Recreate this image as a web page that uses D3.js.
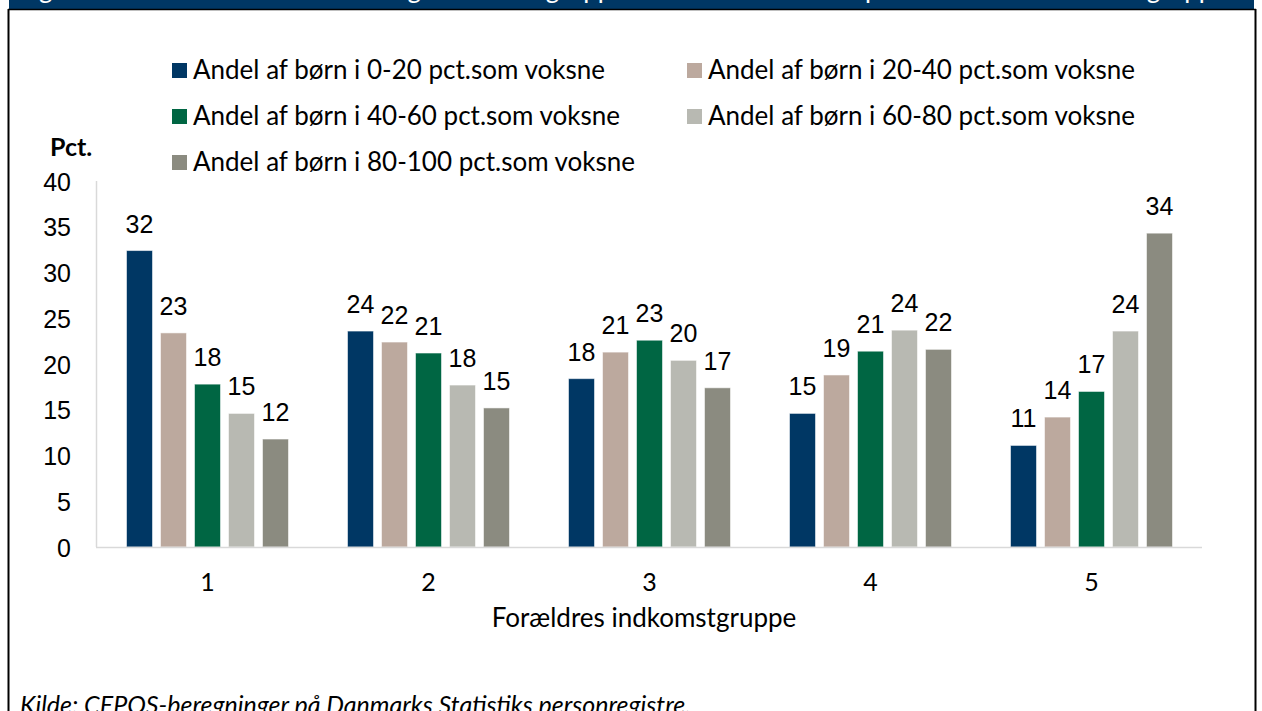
<!DOCTYPE html>
<html>
<head>
<meta charset="utf-8">
<script src="https://cdn.jsdelivr.net/npm/d3@7"></script>
<style>
  html, body { margin: 0; padding: 0; background: #fff; }
  svg { display: block; }
</style>
</head>
<body>
<svg id="chart" width="1262" height="711"></svg>
<script>
// ---- data ----
const categories = ["1", "2", "3", "4", "5"];
const seriesNames = [
  "Andel af børn i 0-20 pct.som voksne",
  "Andel af børn i 20-40 pct.som voksne",
  "Andel af børn i 40-60 pct.som voksne",
  "Andel af børn i 60-80 pct.som voksne",
  "Andel af børn i 80-100 pct.som voksne"
];
const s0_20   = [32.4, 23.6, 18.4, 14.6, 11.1];
const s20_40  = [23.4, 22.4, 21.3, 18.8, 14.2];
const s40_60  = [17.8, 21.2, 22.6, 21.4, 17.0];
const s60_80  = [14.6, 17.7, 20.4, 23.7, 23.6];
const s80_100 = [11.8, 15.2, 17.4, 21.6, 34.3];
const seriesValues = [s0_20, s20_40, s40_60, s60_80, s80_100];
const seriesColors = ["#003764", "#BCA99E", "#006643", "#B8B9B2", "#8B8B80"];
const yTicks = [0, 5, 10, 15, 20, 25, 30, 35, 40];
const yLabel = "Pct.";
const xLabel = "Forældres indkomstgruppe";
const titleText = "Figur 4: Andel af børn i de forskellige indkomstgrupper som voksne fordelt på forældrenes indkomstgruppe";
const sourceText = "Kilde: CEPOS-beregninger på Danmarks Statistiks personregistre.";

// ---- layout ----
const svg = d3.select("#chart");
const W = 1262, H = 711;
const pLeft = 97, pRight = 1202, pTop = 181, pBottom = 547;

// header bar and frame
svg.append("rect").attr("x", 9).attr("y", 0).attr("width", 1245).attr("height", 9).attr("fill", "#003764");
svg.append("text").attr("x", 18).attr("y", -2)
  .attr("font-family", "Lato, sans-serif").attr("font-size", 26).attr("fill", "#fff")
  .text(titleText);
svg.append("line").attr("x1", 8).attr("x2", 1256).attr("y1", 9.5).attr("y2", 9.5).attr("stroke", "#000").attr("stroke-width", 1.5);
svg.append("line").attr("x1", 8.5).attr("x2", 8.5).attr("y1", 9).attr("y2", H).attr("stroke", "#000").attr("stroke-width", 2);
svg.append("line").attr("x1", 1255.5).attr("x2", 1255.5).attr("y1", 9).attr("y2", H).attr("stroke", "#000").attr("stroke-width", 2);

// scales
const y = d3.scaleLinear().domain([0, 40]).range([pBottom, pTop]);
const x0 = d3.scaleBand().domain(categories).range([pLeft, pRight]).padding(0);
const x1 = d3.scaleBand().domain(d3.range(seriesNames.length))
  .range([29.5, 191.5]).paddingInner(0.235).paddingOuter(0);

// y axis line
svg.append("line").attr("x1", pLeft - 0.5).attr("x2", pLeft - 0.5).attr("y1", y(40)).attr("y2", y(0))
  .attr("stroke", "#d9d9d9").attr("stroke-width", 1.5);

// y tick labels
const yAxis = d3.axisLeft(y).tickValues(yTicks).tickSize(0).tickPadding(0);
const gy = svg.append("g").attr("transform", `translate(71,0)`).call(yAxis);
gy.select(".domain").remove();
gy.selectAll("text").attr("font-family", "Liberation Sans, Arial, sans-serif")
  .attr("font-size", 25).attr("fill", "#000").attr("dy", "0.36em");

svg.append("text").attr("x", 50).attr("y", 156)
  .attr("font-family", "Lato, sans-serif").attr("font-weight", "bold").attr("font-size", 25)
  .attr("fill", "#000").text(yLabel);

// bars
const groups = svg.append("g").selectAll("g").data(categories).join("g")
  .attr("transform", d => `translate(${x0(d)},0)`);

groups.selectAll("rect")
  .data((c, ci) => seriesValues.map((arr, si) => ({ si, v: arr[ci] })))
  .join("rect")
  .attr("x", d => x1(d.si))
  .attr("width", x1.bandwidth())
  .attr("y", d => y(d.v))
  .attr("height", d => y(0) - y(d.v))
  .attr("fill", d => seriesColors[d.si])
  .attr("stroke", "#ffffff").attr("stroke-opacity", 0.55).attr("stroke-width", 1);

groups.selectAll("text.lbl")
  .data((c, ci) => seriesValues.map((arr, si) => ({ si, v: arr[ci] })))
  .join("text").attr("class", "lbl")
  .attr("x", d => x1(d.si) + x1.bandwidth() / 2)
  .attr("y", d => y(d.v) - 18)
  .attr("text-anchor", "middle")
  .attr("font-family", "Liberation Sans, Arial, sans-serif").attr("font-size", 25)
  .attr("fill", "#000")
  .text(d => d3.format(".0f")(d.v));

// x axis line
svg.append("line").attr("x1", pLeft - 1).attr("x2", pRight).attr("y1", pBottom + 0.5).attr("y2", pBottom + 0.5)
  .attr("stroke", "#d9d9d9").attr("stroke-width", 1.5);

// x tick labels
const xAxis = d3.axisBottom(x0).tickSize(0).tickPadding(0);
const gx = svg.append("g").attr("transform", `translate(0,591)`).call(xAxis);
gx.select(".domain").remove();
gx.selectAll("text").attr("font-family", "Lato, sans-serif").attr("font-size", 25)
  .attr("fill", "#000").attr("dy", 0);

svg.append("text").attr("x", 644).attr("y", 627).attr("text-anchor", "middle")
  .attr("font-family", "Lato, sans-serif").attr("font-size", 26).attr("fill", "#000")
  .text(xLabel);

// legend
const legendPos = [
  [172, 79], [687, 79],
  [172, 125], [687, 125],
  [172, 171]
];
const lg = svg.append("g").selectAll("g").data(seriesNames).join("g")
  .attr("transform", (d, i) => `translate(${legendPos[i][0]},${legendPos[i][1]})`);
lg.append("rect").attr("x", 0).attr("y", -16).attr("width", 15).attr("height", 15)
  .attr("fill", (d, i) => seriesColors[i]);
lg.append("text").attr("x", 21).attr("y", 0)
  .attr("font-family", "Lato, sans-serif").attr("font-size", 26).attr("fill", "#000")
  .text(d => d);

// source
svg.append("text").attr("x", 20).attr("y", 714)
  .attr("font-family", "Lato, sans-serif").attr("font-style", "italic").attr("font-size", 25)
  .attr("fill", "#000").text(sourceText);
</script>
</body>
</html>
